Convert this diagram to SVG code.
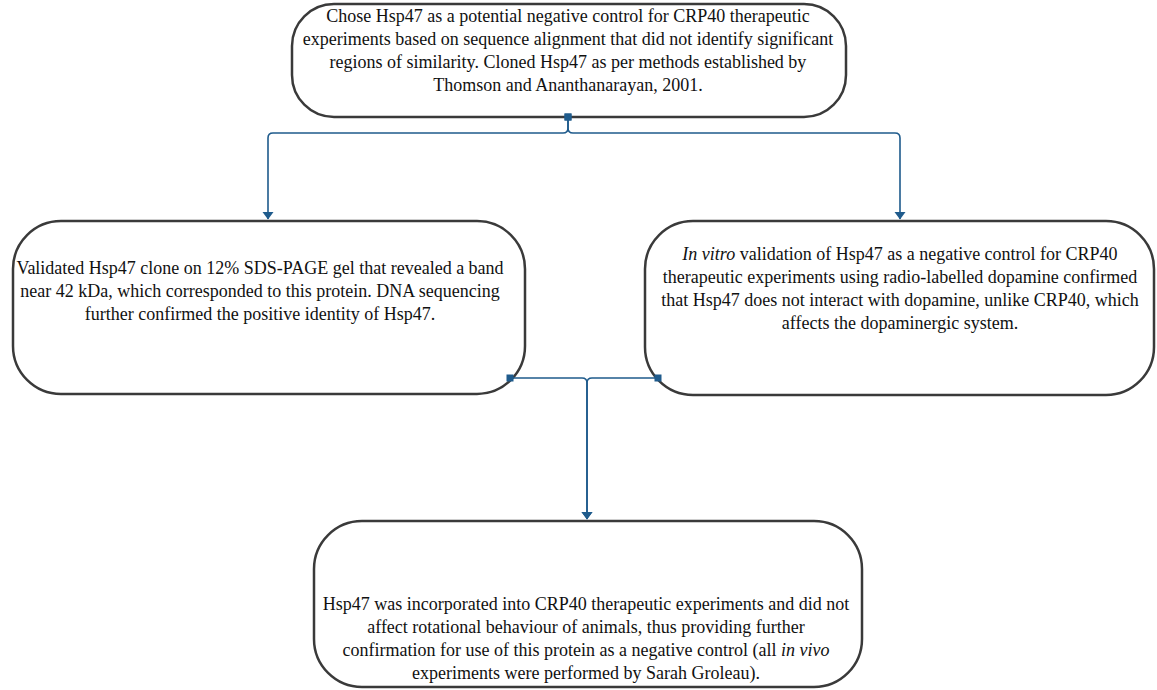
<svg xmlns="http://www.w3.org/2000/svg" width="1157" height="690" viewBox="0 0 1157 690">
<style>
.box{fill:#fff;stroke:#3a3a3a;stroke-width:2.5}
.t{font-family:"Liberation Serif","Times New Roman",serif;font-size:18px;fill:#111;text-anchor:middle}
.c{fill:none;stroke:#1f5b8c;stroke-width:1.6}
</style>
<defs>
<marker id="sq" markerUnits="userSpaceOnUse" markerWidth="8" markerHeight="8" refX="4" refY="4" viewBox="0 0 8 8">
<rect x="0.5" y="0.5" width="7" height="7" fill="#1f5b8c"/>
</marker>
<marker id="tri" markerUnits="userSpaceOnUse" markerWidth="12" markerHeight="10" refX="6" refY="8" orient="0" viewBox="0 0 12 10">
<path d="M0.5,1 L11.5,1 L6,8.5 Z" fill="#1f5b8c"/>
</marker>
</defs>
<g id="n1">
<rect class="box" x="292" y="4" width="554" height="113" rx="42" ry="42"/>
<text class="t" x="568" y="22">Chose Hsp47 as a potential negative control for CRP40 therapeutic</text>
<text class="t" x="568" y="45">experiments based on sequence alignment that did not identify significant</text>
<text class="t" x="568" y="68">regions of similarity. Cloned Hsp47 as per methods established by</text>
<text class="t" x="568" y="91">Thomson and Ananthanarayan, 2001.</text>
</g>
<g id="n2">
<rect class="box" x="13" y="221" width="512" height="173" rx="48" ry="48"/>
<text class="t" x="260" y="274">Validated Hsp47 clone on 12% SDS-PAGE gel that revealed a band</text>
<text class="t" x="260" y="297">near 42 kDa, which corresponded to this protein. DNA sequencing</text>
<text class="t" x="260" y="320">further confirmed the positive identity of Hsp47.</text>
</g>
<g id="n3">
<rect class="box" x="645" y="221" width="509" height="174" rx="48" ry="48"/>
<text class="t" x="900" y="260"><tspan font-style="italic">In vitro</tspan> validation of Hsp47 as a negative control for CRP40</text>
<text class="t" x="900" y="283">therapeutic experiments using radio-labelled dopamine confirmed</text>
<text class="t" x="900" y="306">that Hsp47 does not interact with dopamine, unlike CRP40, which</text>
<text class="t" x="900" y="329">affects the dopaminergic system.</text>
</g>
<g id="n4">
<rect class="box" x="314" y="521" width="548" height="166" rx="48" ry="48"/>
<text class="t" x="586" y="610">Hsp47 was incorporated into CRP40 therapeutic experiments and did not</text>
<text class="t" x="586" y="633">affect rotational behaviour of animals, thus providing further</text>
<text class="t" x="586" y="656">confirmation for use of this protein as a negative control (all <tspan font-style="italic">in vivo</tspan></text>
<text class="t" x="586" y="679">experiments were performed by Sarah Groleau).</text>
</g>
<g id="connectors">
<path class="c" marker-start="url(#sq)" marker-end="url(#tri)" d="M568,117 V128 Q568,133 563,133 H273 Q268,133 268,138 V219"/>
<path class="c" marker-start="url(#sq)" marker-end="url(#tri)" d="M568,117 V128 Q568,133 573,133 H895 Q900,133 900,138 V219"/>
<path class="c" marker-start="url(#sq)" marker-end="url(#tri)" d="M510,378 H582 Q587,378 587,383 V519"/>
<path class="c" marker-start="url(#sq)" marker-end="url(#tri)" d="M658,378 H592 Q587,378 587,383 V519"/>
</g>
</svg>
